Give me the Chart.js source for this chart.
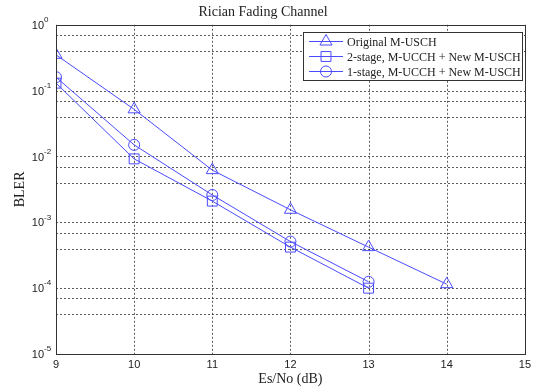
<!DOCTYPE html>
<html>
<head>
<meta charset="utf-8">
<script src="https://cdn.jsdelivr.net/npm/chart.js@4.4.1/dist/chart.umd.min.js"></script>
<style>
  html, body { margin: 0; padding: 0; background: #fff; }
  #wrap { width: 535px; height: 389px; }
</style>
</head>
<body>
<div id="wrap"><canvas id="blerChart" width="535" height="389"></canvas></div>
<script>
// Es/No (dB)
const esNo = [9, 10, 11, 12, 13, 14];

// BLER per scheme
const originalMUSCH = [0.35, 0.052, 0.0062, 0.00155, 0.00042, 0.000115];
const twoStage = [0.13, 0.0092, 0.0021, 0.00042, 0.0001];
const oneStage = [0.16, 0.015, 0.0026, 0.00051, 0.000125];

const seriesLabels = [
  "Original M-USCH",
  "2-stage, M-UCCH + New M-USCH",
  "1-stage, M-UCCH + New M-USCH"
];
const decades = [0, -1, -2, -3, -4, -5];

const BLUE = "#4b4bff";
const SERIF = "'Liberation Serif', 'Times New Roman', serif";
const SANS = "'Liberation Sans', Arial, sans-serif";

const toPoints = (ys) => ys.map((y, i) => ({ x: esNo[i], y: y }));

function drawMarker(ctx, style, x, y, r) {
  ctx.beginPath();
  if (style === "triangle") {
    ctx.moveTo(x, y - r);
    ctx.lineTo(x + r * 0.866, y + r * 0.5);
    ctx.lineTo(x - r * 0.866, y + r * 0.5);
    ctx.closePath();
  } else if (style === "rect") {
    const s = r * Math.SQRT1_2;
    ctx.rect(x - s, y - s, 2 * s, 2 * s);
  } else {
    ctx.arc(x, y, r, 0, Math.PI * 2);
  }
  ctx.stroke();
}

// dotted grid, frame, y tick labels with exponents, and the legend box
const matlabLook = {
  id: "matlabLook",
  beforeDatasetsDraw(chart) {
    const ctx = chart.ctx;
    const area = chart.chartArea;
    const xs = chart.scales.x, ys = chart.scales.y;
    ctx.save();
    ctx.strokeStyle = "#333";
    ctx.lineWidth = 0.8;
    ctx.setLineDash([2, 2]);
    xs.ticks.forEach(t => {
      const px = Math.round(xs.getPixelForValue(t.value)) + 0.5;
      ctx.beginPath();
      ctx.moveTo(px, area.top);
      ctx.lineTo(px, area.bottom);
      ctx.stroke();
    });
    ys.ticks.forEach(t => {
      const py = Math.round(ys.getPixelForValue(t.value)) + 0.5;
      ctx.beginPath();
      ctx.moveTo(area.left, py);
      ctx.lineTo(area.right, py);
      ctx.stroke();
    });
    ctx.restore();
  },
  afterDraw(chart) {
    const ctx = chart.ctx;
    const area = chart.chartArea;
    const yScale = chart.scales.y;
    ctx.save();

    ctx.strokeStyle = "#333";
    ctx.lineWidth = 1;
    ctx.setLineDash([]);
    ctx.strokeRect(Math.round(area.left) + 0.5, Math.round(area.top) + 0.5,
      Math.round(area.right - area.left), Math.round(area.bottom - area.top));

    ctx.fillStyle = "#222";
    decades.forEach(e => {
      const py = yScale.getPixelForValue(Math.pow(10, e));
      ctx.font = "11px " + SANS;
      ctx.textAlign = "right";
      ctx.textBaseline = "middle";
      ctx.fillText("10", 44, py + 1);
      ctx.font = "8px " + SANS;
      ctx.textAlign = "left";
      ctx.fillText(String(e), 44, py - 5);
    });

    // legend
    const lx = 303, ly = 32, lw = 219, lh = 48;
    ctx.fillStyle = "#fff";
    ctx.fillRect(lx, ly, lw, lh);
    ctx.strokeStyle = "#333";
    ctx.strokeRect(lx + 0.5, ly + 0.5, lw, lh);
    chart.data.datasets.forEach((ds, i) => {
      const cy = 41.5 + i * 15;
      ctx.strokeStyle = BLUE;
      ctx.lineWidth = 1;
      ctx.beginPath();
      ctx.moveTo(309, cy);
      ctx.lineTo(343, cy);
      ctx.stroke();
      drawMarker(ctx, ds.pointStyle, 326, cy, ds.pointRadius);
      ctx.fillStyle = "#222";
      ctx.font = "12px " + SERIF;
      ctx.textAlign = "left";
      ctx.textBaseline = "middle";
      ctx.fillText(ds.label, 347, cy + 1);
    });
    ctx.restore();
  }
};

const allTicks = [];
for (let e = -5; e < 0; e++) {
  for (let m = 1; m <= 9; m++) allTicks.push(m * Math.pow(10, e));
}
allTicks.push(1);

new Chart(document.getElementById("blerChart").getContext("2d"), {
  type: "line",
  data: {
    datasets: [
      {
        label: seriesLabels[0],
        data: toPoints(originalMUSCH),
        borderColor: BLUE,
        backgroundColor: "rgba(0,0,0,0)",
        borderWidth: 1,
        tension: 0,
        pointStyle: "triangle",
        pointRadius: 7,
        pointBorderWidth: 1,
        pointBorderColor: BLUE
      },
      {
        label: seriesLabels[1],
        data: toPoints(twoStage),
        borderColor: BLUE,
        backgroundColor: "rgba(0,0,0,0)",
        borderWidth: 1,
        tension: 0,
        pointStyle: "rect",
        pointRadius: 7,
        pointBorderWidth: 1,
        pointBorderColor: BLUE
      },
      {
        label: seriesLabels[2],
        data: toPoints(oneStage),
        borderColor: BLUE,
        backgroundColor: "rgba(0,0,0,0)",
        borderWidth: 1,
        tension: 0,
        pointStyle: "circle",
        pointRadius: 5.5,
        pointBorderWidth: 1,
        pointBorderColor: BLUE
      }
    ]
  },
  options: {
    responsive: false,
    animation: false,
    layout: { padding: { left: 0, right: 9, top: 0, bottom: 0 } },
    plugins: {
      legend: { display: false },
      tooltip: { enabled: false },
      title: {
        display: true,
        text: "Rician Fading Channel",
        color: "#222",
        font: { family: SERIF, size: 14, weight: "normal" },
        padding: { top: 4, bottom: 4 }
      }
    },
    scales: {
      x: {
        type: "linear",
        min: 9,
        max: 15,
        ticks: { stepSize: 1, color: "#222", font: { family: SANS, size: 11 }, padding: 4 },
        grid: { display: false, drawTicks: false },
        border: { display: false },
        title: {
          display: true,
          text: "Es/No (dB)",
          color: "#222",
          font: { family: SERIF, size: 14 },
          padding: { top: 0, bottom: 1 }
        },
        afterFit(s) { s.height = 35; }
      },
      y: {
        type: "logarithmic",
        min: 1e-5,
        max: 1,
        afterBuildTicks(s) { s.ticks = allTicks.map(v => ({ value: v })); },
        ticks: { callback: () => "", padding: 0 },
        grid: { display: false, drawTicks: false },
        border: { display: false },
        title: {
          display: true,
          text: "BLER",
          color: "#222",
          font: { family: SERIF, size: 14 },
          padding: { top: 12, bottom: 0 }
        },
        afterFit(s) { s.width = 56; }
      }
    }
  },
  plugins: [matlabLook]
});
</script>
</body>
</html>
